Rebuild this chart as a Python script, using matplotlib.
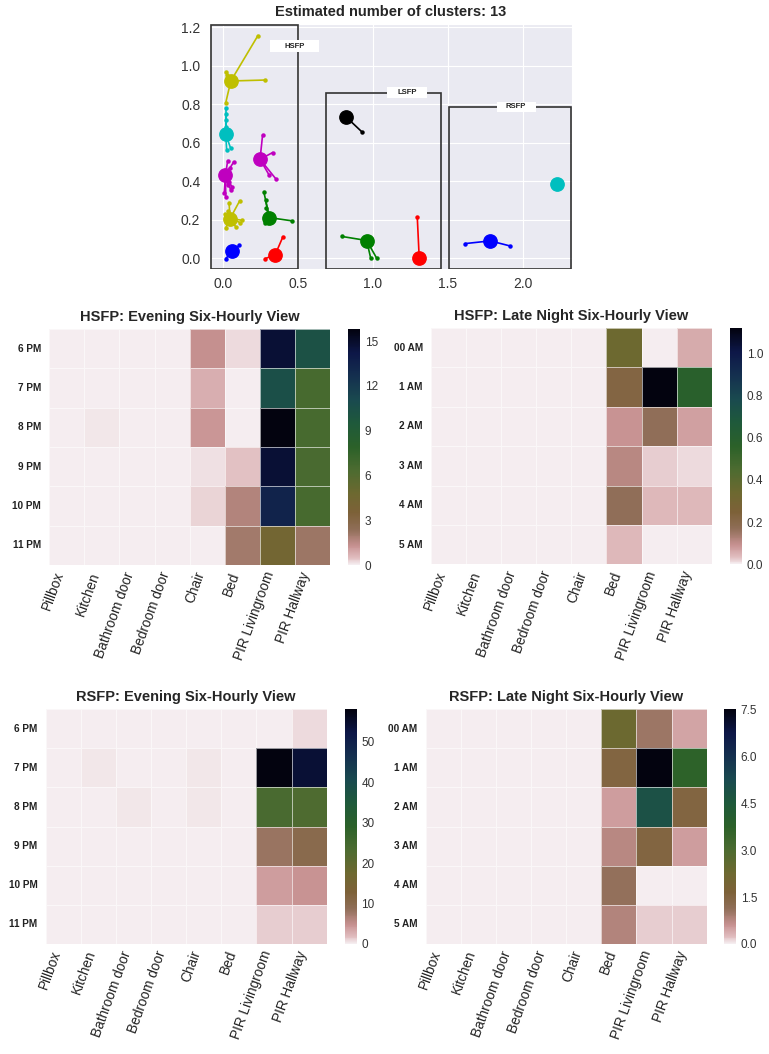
import matplotlib
matplotlib.use('Agg')
import matplotlib.pyplot as plt
from matplotlib.patches import Rectangle
from matplotlib.colors import LinearSegmentedColormap
import numpy as np
import pandas as pd
import seaborn as sns

sns.set_style('darkgrid')
plt.rcParams['font.family'] = ['Liberation Sans', 'DejaVu Sans']

# ---- cluster plot data ----
center_x = [0.052, 0.018, 0.016, 0.247, 0.047, 0.309, 0.062, 0.347,
            0.819, 0.959, 1.310, 1.784, 2.231]
center_y = [0.921, 0.644, 0.431, 0.514, 0.206, 0.211, 0.036, 0.016,
            0.736, 0.092, 0.000, 0.090, 0.388]
center_col = ['y', 'c', 'm', 'm', 'y', 'g', 'b', 'r', 'k', 'g', 'r', 'b', 'c']

member_x = [
    [0.233, 0.282, 0.018, 0.025, 0.018],
    [0.018, 0.018, 0.018, 0.018, 0.024, 0.051],
    [0.031, 0.071, 0.046, 0.018, 0.008, 0.051, 0.060, 0.030, 0.040],
    [0.264, 0.331, 0.353, 0.307],
    [0.040, 0.111, 0.129, 0.084, 0.018, 0.013, 0.115, 0.030],
    [0.273, 0.284, 0.289, 0.462, 0.278],
    [0.109, 0.018],
    [0.400, 0.280],
    [0.928],
    [0.794, 0.986, 1.026],
    [1.297],
    [1.617, 1.915],
    [],
]
member_y = [
    [1.157, 0.926, 0.966, 0.950, 0.808],
    [0.779, 0.750, 0.718, 0.684, 0.564, 0.571],
    [0.507, 0.500, 0.470, 0.320, 0.340, 0.355, 0.370, 0.380, 0.395],
    [0.640, 0.549, 0.412, 0.433],
    [0.289, 0.298, 0.197, 0.164, 0.157, 0.230, 0.185, 0.245],
    [0.343, 0.300, 0.260, 0.194, 0.182],
    [0.067, -0.002],
    [0.112, -0.002],
    [0.656],
    [0.113, 0.000, 0.000],
    [0.213],
    [0.076, 0.064],
    [],
]

# group boxes
box_names = ['HSFP', 'LSFP', 'RSFP']
box_left = [-0.082, 0.689, 1.511]
box_right = [0.502, 1.458, 2.322]
box_top = [1.212, 0.860, 0.788]
box_bottom = -0.057
label_x = [0.477, 1.227, 1.957]
label_y = [1.101, 0.859, 0.788]
label_w = [0.327, 0.267, 0.260]
label_h = [0.062, 0.057, 0.052]

# ---- heatmap data ----
sensors = ['Pillbox', 'Kitchen', 'Bathroom door', 'Bedroom door', 'Chair',
           'Bed', 'PIR Livingroom', 'PIR Hallway']
evening_hours = ['6 PM', '7 PM', '8 PM', '9 PM', '10 PM', '11 PM']
night_hours = ['00 AM', '1 AM', '2 AM', '3 AM', '4 AM', '5 AM']

hsfp_evening = [
    [0, 0, 0, 0, 1.3, 0.2, 14.7, 10.3],
    [0, 0, 0, 0, 0.8, 0.0, 10.5, 6.6],
    [0, 0.1, 0, 0, 1.2, 0.0, 15.8, 6.6],
    [0, 0, 0, 0, 0.15, 0.45, 14.7, 6.5],
    [0, 0, 0, 0, 0.3, 1.7, 13.4, 6.6],
    [0, 0, 0, 0, 0.02, 2.0, 4.3, 2.1],
]
hsfp_night = [
    [0, 0, 0, 0, 0, 0.34, 0.003, 0.06],
    [0, 0, 0, 0, 0, 0.22, 1.12, 0.58],
    [0, 0, 0, 0, 0, 0.09, 0.17, 0.07],
    [0, 0, 0, 0, 0, 0.11, 0.025, 0.015],
    [0, 0, 0, 0, 0, 0.17, 0.04, 0.04],
    [0, 0, 0, 0, 0, 0.04, 0.003, 0.003],
]
rsfp_evening = [
    [0, 0, 0, 0, 0, 0, 0, 0.9],
    [0, 0.35, 0, 0, 0.35, 0, 58.0, 54.0],
    [0, 0, 0.35, 0, 0.35, 0, 24.0, 23.0],
    [0, 0, 0, 0, 0, 0, 8.0, 10.0],
    [0, 0, 0, 0, 0, 0, 4.0, 4.7],
    [0, 0, 0, 0, 0, 0, 1.2, 1.2],
]
rsfp_night = [
    [0, 0, 0, 0, 0, 2.3, 1.0, 0.45],
    [0, 0, 0, 0, 0, 1.5, 7.5, 3.7],
    [0, 0, 0, 0, 0, 0.5, 4.9, 1.5],
    [0, 0, 0, 0, 0, 0.75, 1.5, 0.5],
    [0, 0, 0, 0, 0, 1.1, 0.02, 0.02],
    [0, 0, 0, 0, 0, 0.8, 0.15, 0.15],
]

hsfp_evening_ticks = [0, 3, 6, 9, 12, 15]
hsfp_night_ticks = [0.0, 0.2, 0.4, 0.6, 0.8, 1.0]
rsfp_evening_ticks = [0, 10, 20, 30, 40, 50]
rsfp_night_ticks = [0.0, 1.5, 3.0, 4.5, 6.0, 7.5]

# colour map (light pink -> brown -> green -> navy -> black)
cmap_stops = [0.0, 0.03, 0.08, 0.15, 0.22, 0.30, 0.40, 0.50, 0.60, 0.70, 0.80, 0.90, 1.0]
cmap_colors = [(0.96, 0.93, 0.94), (0.88, 0.74, 0.75), (0.78, 0.57, 0.57),
               (0.56, 0.43, 0.34), (0.49, 0.38, 0.22), (0.43, 0.41, 0.19),
               (0.30, 0.42, 0.19), (0.17, 0.38, 0.16), (0.12, 0.35, 0.23),
               (0.10, 0.29, 0.31), (0.08, 0.19, 0.31), (0.05, 0.09, 0.28),
               (0.01, 0.01, 0.06)]
cmap = LinearSegmentedColormap.from_list('ref', list(zip(cmap_stops, cmap_colors)))

fig = plt.figure(figsize=(7.69, 10.54), dpi=100)

# ---------------- cluster plot ----------------
ax = fig.add_axes([0.2731, 0.7448, 0.4707, 0.2324])
for i in range(len(center_x)):
    col = center_col[i]
    for mx, my in zip(member_x[i], member_y[i]):
        ax.plot([center_x[i], mx], [center_y[i], my], color=col, lw=1.2)
    ax.plot(member_x[i], member_y[i], 'o', color=col, markersize=2.2)
    ax.plot(center_x[i], center_y[i], 'o', color=col, markersize=9.6)

for i in range(len(box_names)):
    ax.add_patch(Rectangle((box_left[i], box_bottom), box_right[i] - box_left[i],
                           box_top[i] - box_bottom, fill=False,
                           edgecolor='#333333', lw=1.2, zorder=3))
    ax.add_patch(Rectangle((label_x[i] - label_w[i] / 2, label_y[i] - label_h[i] / 2),
                           label_w[i], label_h[i], facecolor='white',
                           edgecolor='none', zorder=4))
    ax.text(label_x[i], label_y[i], box_names[i], ha='center', va='center',
            fontsize=5.5, fontweight='bold', color='#222222', zorder=5)

ax.set_xlim(-0.087, 2.33)
ax.set_ylim(-0.056, 1.217)
ax.set_xticks([0.0, 0.5, 1.0, 1.5, 2.0])
ax.set_yticks([0.0, 0.2, 0.4, 0.6, 0.8, 1.0, 1.2])
ax.tick_params(labelsize=10, colors='#333333')
ax.tick_params(axis='x', pad=2)
ax.set_title('Estimated number of clusters: 13', fontsize=10.5, fontweight='bold')

# ---------------- heatmaps ----------------
panels = [
    (hsfp_evening, evening_hours, 'HSFP: Evening Six-Hourly View', hsfp_evening_ticks, '%d',
     [0.0641, 0.4639, 0.3650, 0.2239], [0.4529, 0.4639, 0.0152, 0.2239]),
    (hsfp_night, night_hours, 'HSFP: Late Night Six-Hourly View', hsfp_night_ticks, '%.1f',
     [0.5605, 0.4646, 0.3650, 0.2242], [0.9493, 0.4646, 0.0152, 0.2242]),
    (rsfp_evening, evening_hours, 'RSFP: Evening Six-Hourly View', rsfp_evening_ticks, '%d',
     [0.0594, 0.1044, 0.3654, 0.2227], [0.4486, 0.1044, 0.0152, 0.2227]),
    (rsfp_night, night_hours, 'RSFP: Late Night Six-Hourly View', rsfp_night_ticks, '%.1f',
     [0.5536, 0.1044, 0.3654, 0.2227], [0.9415, 0.1044, 0.0152, 0.2227]),
]

for vals, hours, title, ticks, fmt, pos, cpos in panels:
    hax = fig.add_axes(pos)
    cax = fig.add_axes(cpos)
    df = pd.DataFrame(vals, index=hours, columns=sensors)
    sns.heatmap(df, ax=hax, cbar_ax=cax, cmap=cmap, vmin=0,
                linewidths=0.5, linecolor=(1, 1, 1, 0.6),
                cbar_kws={'ticks': ticks, 'format': fmt})
    hax.set_title(title, fontsize=10.5, fontweight='bold')
    hax.set_yticklabels(hours, rotation=0, fontweight='bold', fontsize=7.2)
    hax.set_xticklabels(sensors, rotation=70, ha='right', fontsize=9.8)
    hax.tick_params(length=0, colors='#222222')
    hax.tick_params(axis='y', pad=6)
    cax.tick_params(labelsize=8.5, colors='#333333', length=0)

fig.savefig('out.png', dpi=100)
